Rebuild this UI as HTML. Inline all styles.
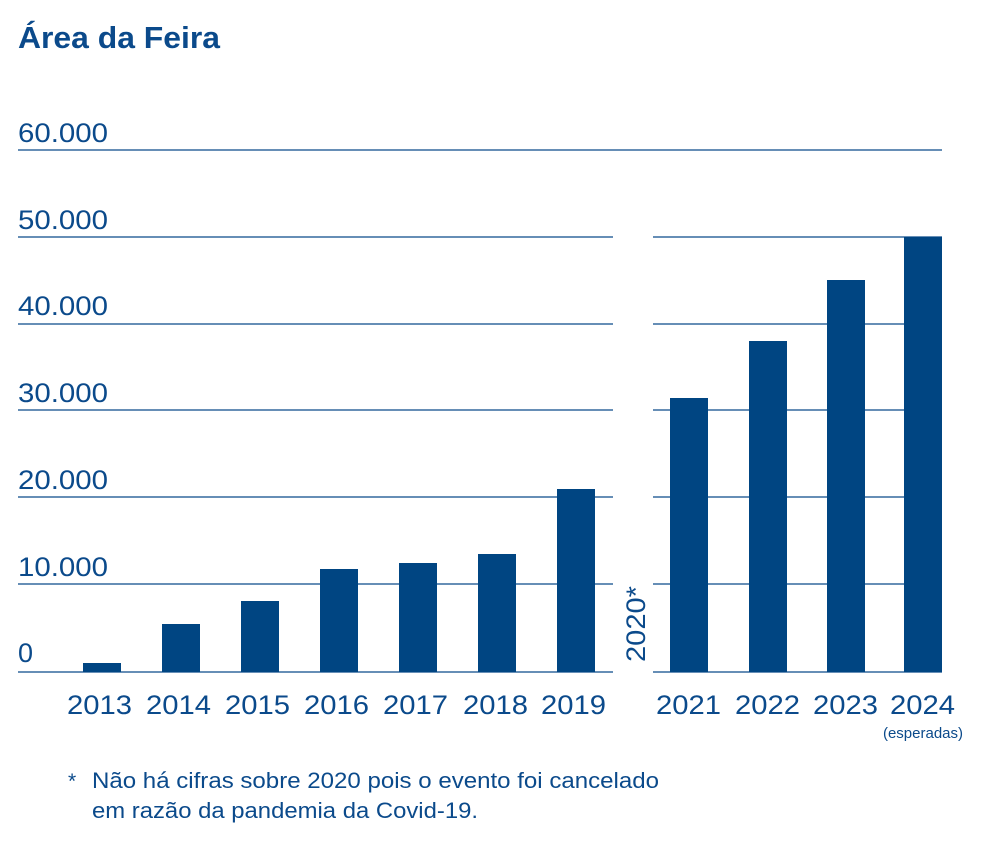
<!DOCTYPE html>
<html><head><meta charset="utf-8"><style>
body{margin:0;background:#fff;width:1000px;height:850px;overflow:hidden}
svg text{font-family:"Liberation Sans",sans-serif;fill:#0b4a8b}
</style></head><body>
<svg width="1000" height="850" viewBox="0 0 1000 850">
<text x="18" y="48" font-size="31" font-weight="bold" fill="#0b4a8b" textLength="202" lengthAdjust="spacingAndGlyphs">Área da Feira</text>
<g stroke="#0b4a8b" stroke-width="1.2">
<line x1="18" y1="150" x2="942" y2="150"/>
<line x1="18" y1="237" x2="613" y2="237"/><line x1="653" y1="237" x2="942" y2="237"/>
<line x1="18" y1="324" x2="613" y2="324"/><line x1="653" y1="324" x2="942" y2="324"/>
<line x1="18" y1="410" x2="613" y2="410"/><line x1="653" y1="410" x2="942" y2="410"/>
<line x1="18" y1="497" x2="613" y2="497"/><line x1="653" y1="497" x2="942" y2="497"/>
<line x1="18" y1="584" x2="613" y2="584"/><line x1="653" y1="584" x2="942" y2="584"/>
<line x1="18" y1="672" x2="613" y2="672"/><line x1="653" y1="672" x2="942" y2="672"/>
</g>
<g font-size="27">
<text x="18" y="142" textLength="90" lengthAdjust="spacingAndGlyphs">60.000</text>
<text x="18" y="229" textLength="90" lengthAdjust="spacingAndGlyphs">50.000</text>
<text x="18" y="315" textLength="90" lengthAdjust="spacingAndGlyphs">40.000</text>
<text x="18" y="402" textLength="90" lengthAdjust="spacingAndGlyphs">30.000</text>
<text x="18" y="489" textLength="90" lengthAdjust="spacingAndGlyphs">20.000</text>
<text x="18" y="576" textLength="90" lengthAdjust="spacingAndGlyphs">10.000</text>
<text x="18" y="662">0</text>
</g>
<g fill="#004582">
<rect x="83" y="663" width="38" height="9"/>
<rect x="162" y="624" width="38" height="48"/>
<rect x="241" y="601" width="38" height="71"/>
<rect x="320" y="569" width="38" height="103"/>
<rect x="399" y="563" width="38" height="109"/>
<rect x="478" y="554" width="38" height="118"/>
<rect x="557" y="489" width="38" height="183"/>
<rect x="670" y="398" width="38" height="274"/>
<rect x="749" y="341" width="38" height="331"/>
<rect x="827" y="280" width="38" height="392"/>
<rect x="904" y="237" width="38" height="435"/>
</g>
<g font-size="27">
<text x="67" y="714" textLength="65" lengthAdjust="spacingAndGlyphs">2013</text>
<text x="146" y="714" textLength="65" lengthAdjust="spacingAndGlyphs">2014</text>
<text x="225" y="714" textLength="65" lengthAdjust="spacingAndGlyphs">2015</text>
<text x="304" y="714" textLength="65" lengthAdjust="spacingAndGlyphs">2016</text>
<text x="383" y="714" textLength="65" lengthAdjust="spacingAndGlyphs">2017</text>
<text x="463" y="714" textLength="65" lengthAdjust="spacingAndGlyphs">2018</text>
<text x="541" y="714" textLength="65" lengthAdjust="spacingAndGlyphs">2019</text>
<text x="656" y="714" textLength="65" lengthAdjust="spacingAndGlyphs">2021</text>
<text x="735" y="714" textLength="65" lengthAdjust="spacingAndGlyphs">2022</text>
<text x="813" y="714" textLength="65" lengthAdjust="spacingAndGlyphs">2023</text>
<text x="890" y="714" textLength="65" lengthAdjust="spacingAndGlyphs">2024</text>
</g>
<text x="923" y="738" font-size="15" text-anchor="middle">(esperadas)</text>
<text transform="translate(645,662) rotate(-90)" font-size="27" textLength="76" lengthAdjust="spacingAndGlyphs">2020*</text>
<text x="68" y="788" font-size="21">*</text>
<text x="92" y="788" font-size="22" textLength="567" lengthAdjust="spacingAndGlyphs">Não há cifras sobre 2020 pois o evento foi cancelado</text>
<text x="92" y="818" font-size="22" textLength="386" lengthAdjust="spacingAndGlyphs">em razão da pandemia da Covid-19.</text>
</svg>
</body></html>
